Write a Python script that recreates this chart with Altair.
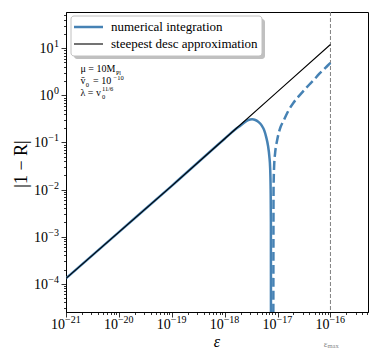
import altair as alt
import pandas as pd

# ---------------- data ----------------
eps_approx = [1e-21, 1e-20, 1e-19, 1e-18, 1e-17, 1e-16]
approx_vals = [1.3e-4, 1.25e-3, 1.2e-2, 0.12, 1.2, 12.0]

eps_solid = [1e-21, 1e-20, 1e-19, 1e-18, 1.6e-18, 2.0e-18, 2.4e-18, 2.8e-18, 3.3e-18,
             3.8e-18, 4.4e-18, 5.0e-18, 5.6e-18, 6.1e-18, 6.6e-18, 7.0e-18, 7.25e-18,
             7.4e-18, 7.48e-18, 7.52e-18]
solid_vals = [1.3e-4, 1.25e-3, 1.2e-2, 0.12, 0.19, 0.23, 0.27, 0.30, 0.31,
              0.30, 0.27, 0.23, 0.18, 0.13, 0.085, 0.05, 0.028,
              0.01, 0.002, 1e-6]

eps_dashed = [8.3e-18, 8.4e-18, 8.6e-18, 9.0e-18, 9.8e-18, 1.1e-17, 1.32e-17, 1.6e-17,
              2.0e-17, 2.5e-17, 3.1e-17, 4.0e-17, 5.0e-17, 6.0e-17, 7.4e-17, 8.7e-17, 1e-16]
dashed_vals = [1e-6, 0.01, 0.03, 0.06, 0.11, 0.19, 0.30, 0.47,
               0.70, 0.95, 1.25, 1.7, 2.2, 2.8, 3.5, 4.2, 4.9]

eps_max = [1e-16]

x_major = [1e-21, 1e-20, 1e-19, 1e-18, 1e-17, 1e-16]
x_major_exps = ["−21", "−20", "−19", "−18", "−17", "−16"]
y_major = [1e-4, 1e-3, 1e-2, 1e-1, 1e0, 1e1]
y_major_exps = ["−4", "−3", "−2", "−1", "0", "1"]

legend_labels = ["numerical integration", "steepest desc approximation"]
x_domain = [1e-21, 10 ** -15.29]
y_domain = [10 ** -4.6, 10 ** 1.77]

# ---------------- styling ----------------
W, H = 302, 300
FONT = "Liberation Serif"
BLUE = "#4682b4"


def minor_ticks(dom):
    out = []
    for k in range(-25, 5):
        for m in range(2, 10):
            v = m * 10.0 ** k
            if dom[0] <= v <= dom[1]:
                out.append(v)
    return out


def major_test(vals):
    return " || ".join(f"abs(datum.value/{v:.0e} - 1) < 1e-6" for v in vals)


def make_axis(major, dom):
    return alt.Axis(
        values=major + minor_ticks(dom), labels=False,
        tickSize={"condition": {"test": major_test(major), "value": 5}, "value": 2.5},
        title=None, grid=False, domainColor="black", tickColor="black", tickWidth=0.8,
    )


x_axis = make_axis(x_major, x_domain)
y_axis = make_axis(y_major, y_domain)

xs = alt.Scale(type="log", domain=x_domain, nice=False)
ys = alt.Scale(type="log", domain=y_domain, nice=False)


def X(f="eps"):
    return alt.X(f"{f}:Q", scale=xs, axis=x_axis)


def Y(f="val"):
    return alt.Y(f"{f}:Q", scale=ys, axis=y_axis)


df_approx = pd.DataFrame({"eps": eps_approx, "val": approx_vals})
df_solid = pd.DataFrame({"eps": eps_solid, "val": solid_vals})
df_dashed = pd.DataFrame({"eps": eps_dashed, "val": dashed_vals})
df_max = pd.DataFrame({"eps": eps_max})
df_xt = pd.DataFrame({"eps": x_major, "exp": x_major_exps})
df_yt = pd.DataFrame({"val": y_major, "exp": y_major_exps})

one = alt.Data(values=[{}])

vline = alt.Chart(df_max).mark_rule(color="#808080", strokeWidth=1, strokeDash=[4, 2]).encode(x=X())

solid = alt.Chart(df_solid).mark_line(color=BLUE, strokeWidth=2.5, clip=True,
                                      interpolate="monotone").encode(x=X(), y=Y())
approx = alt.Chart(df_approx).mark_line(color="black", strokeWidth=1.1, clip=True).encode(x=X(), y=Y())
dashed = alt.Chart(df_dashed).mark_line(color=BLUE, strokeWidth=2.5, clip=True, strokeDash=[9, 4],
                                        interpolate="monotone").encode(x=X(), y=Y())

# tick labels: "10" plus a raised exponent
xl_base = alt.Chart(df_xt).mark_text(text="10", fontSize=14, font=FONT, align="right",
                                     baseline="alphabetic", dx=-1).encode(x=X(), y=alt.value(H + 17))
xl_exp = alt.Chart(df_xt).mark_text(fontSize=10, font=FONT, align="left",
                                    baseline="alphabetic", dx=-1).encode(
    x=X(), y=alt.value(H + 11), text="exp:N")
yl_exp = alt.Chart(df_yt).mark_text(fontSize=10, font=FONT, align="right",
                                    baseline="alphabetic", dy=-1).encode(
    x=alt.value(-7), y=Y(), text="exp:N")
yl_base = alt.Chart(df_yt).transform_calculate(
    xl="-7.5 - (indexof(datum.exp, '−') >= 0 ? 10.6 : 5)"
).mark_text(text="10", fontSize=14, font=FONT, align="right", baseline="alphabetic", dy=5).encode(
    x=alt.X("xl:Q", scale=None), y=Y())


def txt(text, x, y, size, align="left", baseline="alphabetic", color="black", **kw):
    return alt.Chart(one).mark_text(text=text, fontSize=size, font=FONT, align=align,
                                    baseline=baseline, color=color, **kw).encode(
        x=alt.value(x), y=alt.value(y))


# legend
shadow = alt.Chart(one).mark_rect(color="#8c8c8c", opacity=0.55, cornerRadius=3).encode(
    x=alt.value(8), x2=alt.value(199), y=alt.value(7), y2=alt.value(47))
box = alt.Chart(one).mark_rect(fill="white", stroke="#c0c0c0", strokeWidth=1, cornerRadius=3).encode(
    x=alt.value(5), x2=alt.value(196), y=alt.value(4), y2=alt.value(44))
leg_l1 = alt.Chart(one).mark_rule(color=BLUE, strokeWidth=2.5).encode(
    x=alt.value(8), x2=alt.value(37), y=alt.value(15))
leg_l2 = alt.Chart(one).mark_rule(color="black", strokeWidth=1.1).encode(
    x=alt.value(8), x2=alt.value(37), y=alt.value(32))
leg_t1 = txt(legend_labels[0], 45, 15, 13, baseline="middle")
leg_t2 = txt(legend_labels[1], 45, 32, 13, baseline="middle")

# annotation block
ax0 = 14.5
a1 = txt("μ = 10M", ax0, 60, 10)
a1s = txt("Pl", ax0 + 35.5, 62.5, 6)
a2 = txt("v̄", ax0, 72, 10)
a2s = txt("0", ax0 + 5.2, 74.5, 6.5)
a2b = txt("= 10", ax0 + 12.5, 72, 10)
a2e = txt("−10", ax0 + 33, 68, 6.5)
a3 = txt("λ = v", ax0, 84, 10)
a3s = txt("0", ax0 + 21.5, 86.5, 6.5)
a3e = txt("11/6", ax0 + 21.5, 78.5, 6.5)

# axis titles
xt = txt("ε", W / 2, H + 35, 16, align="center", fontStyle="italic")
yt = txt("|1 − R|", -44, H / 2 + 2, 18, align="center", baseline="middle", angle=270)
emax1 = alt.Chart(df_max).mark_text(text="ε", fontSize=9, font=FONT, align="right", color="#888888",
                                    dx=-3).encode(x=X(), y=alt.value(H + 32))
emax2 = alt.Chart(df_max).mark_text(text="max", fontSize=6.5, font=FONT, align="left", color="#888888",
                                    dx=-3).encode(x=X(), y=alt.value(H + 34))

chart = alt.layer(
    vline, solid, approx, dashed,
    xl_base, xl_exp, yl_exp, yl_base,
    shadow, box, leg_l1, leg_l2, leg_t1, leg_t2,
    a1, a1s, a2, a2s, a2b, a2e, a3, a3s, a3e,
    xt, yt, emax1, emax2,
).properties(
    width=W, height=H,
    autosize=alt.AutoSizeParams(type="none"),
    padding={"left": 58, "top": 4, "right": 3, "bottom": 40},
).configure_view(stroke="black", strokeWidth=1)

chart.save("out.html", embed_options={"renderer": "svg", "actions": False})
